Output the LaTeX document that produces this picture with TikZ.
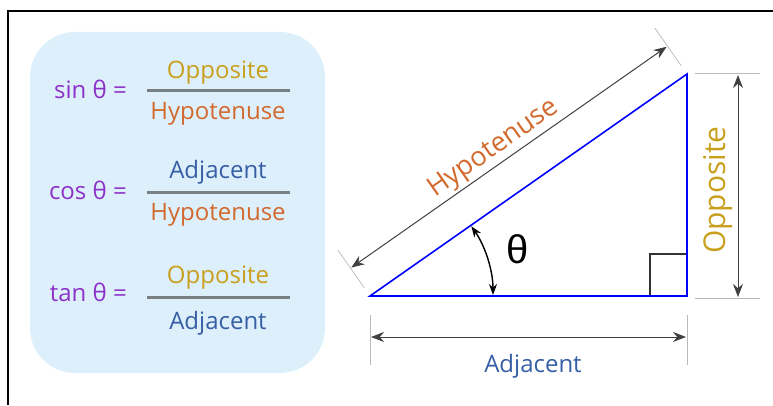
\documentclass[tikz,border=0pt]{standalone}
\usepackage{fontspec}
\setmainfont{Open Sans}
\newfontfamily\thetafont{Liberation Sans}
\usepackage{tikz}
\usetikzlibrary{arrows.meta,positioning,calc}
\usepackage{xcolor}
\definecolor{trigpurple}{RGB}{140,50,200}
\definecolor{trigopp}{RGB}{200,160,30}
\definecolor{trighyp}{RGB}{210,105,45}
\definecolor{trigadj}{RGB}{55,95,165}
\definecolor{trigpanel}{RGB}{222,239,252}
\definecolor{trigbar}{RGB}{120,128,132}
\definecolor{trigext}{RGB}{185,185,185}

\begin{document}
\begin{tikzpicture}[
      x=1pt,y=1pt,
      lbl/.style={font=\fontsize{24}{26}\selectfont,text=trigpurple,anchor=east,inner sep=0pt},
      word/.style={font=\fontsize{24}{26}\selectfont,inner sep=0pt},
      panel/.style={fill=trigpanel,rounded corners=45pt,minimum width=295pt,minimum height=341pt,inner sep=0pt},
      fbar/.style={draw=trigbar,line width=3pt},
      ext/.style={draw=trigext,line width=1pt},
      dim/.style={draw=black!75,line width=1pt,{Stealth[length=13pt,width=10pt]}-{Stealth[length=13pt,width=10pt]},shorten <=1pt,shorten >=1pt},
      tri/.style={draw=blue,line width=1.6pt}
    ]
    \useasboundingbox (0,0) rectangle (773,405);
    \draw[line width=2.5pt] (8,0) -- (8,394) -- (773,394);

    % formulas
    \node[panel] (panel) at (177.5,202.5) {};
    \node[lbl] (sinlbl) at (127,316) {sin θ =};
    \node[word,text=trigopp] (sinnum) at (218,332) {Opposite};
    \node[word,text=trighyp] (sinden) at (218,291) {Hypotenuse};
    \draw[fbar] (147,314) -- (290,314);

    \node[lbl] (coslbl) at (127,215) {cos θ =};
    \node[word,text=trigadj] (cosnum) at (218,233) {Adjacent};
    \node[word,text=trighyp] (cosden) at (218,190) {Hypotenuse};
    \draw[fbar] (147,213) -- (290,213);

    \node[lbl] (tanlbl) at (127,113) {tan θ =};
    \node[word,text=trigopp] (tannum) at (218,127) {Opposite};
    \node[word,text=trigadj] (tanden) at (218,82) {Adjacent};
    \draw[fbar] (147,108) -- (290,108);

    % triangle
    \coordinate (A) at (370,109);
    \coordinate (B) at (687,109);
    \coordinate (C) at (687,331);
    \draw[line width=1.2pt,black!80] ([xshift=-37pt]B) |- ([yshift=42pt]B);
    \draw[tri] (A) -- (B) -- (C) -- cycle;
    \draw[dim,line width=1.4pt,black,{Stealth[length=11pt,width=8pt]}-{Stealth[length=11pt,width=8pt]}] ([xshift=123pt]A) arc[start angle=0,end angle=35,radius=123pt];
    \node[font=\thetafont\fontsize{40}{40}\selectfont] (theta) at (518,156) {θ};

    % hypotenuse
    \coordinate (hA) at ($(A)!34pt!90:(C)$);
    \coordinate (hC) at ($(C)!34pt!-90:(A)$);
    \draw[ext,line width=0.7pt] ($(A)!10pt!90:(C)$) -- ($(A)!56pt!90:(C)$);
    \draw[ext,line width=0.7pt] ($(C)!10pt!-90:(A)$) -- ($(C)!56pt!-90:(A)$);
    \draw[dim] (hA) -- node[word,font=\fontsize{27}{29}\selectfont,sloped,above,text=trighyp,yshift=2pt,pos=0.48]{Hypotenuse} (hC);

    % opposite
    \coordinate (oT) at (738,331);
    \coordinate (oB) at (738,107);
    \draw[ext] (695,331) -- (760,331);
    \draw[ext] (695,107) -- (760,107);
    \draw[dim] (oT) -- (oB);
    \node[word,font=\fontsize{30}{32}\selectfont,text=trigopp,rotate=90] (opp) at (718,215) {Opposite};

    % adjacent
    \coordinate (aL) at (370,68);
    \coordinate (aR) at (687,68);
    \draw[ext] (370,90) -- (370,40);
    \draw[ext] (687,90) -- (687,40);
    \draw[dim] (aL) -- (aR);
    \node[word,text=trigadj] (adj) at (533,39) {Adjacent};
  \end{tikzpicture}
\end{document}
